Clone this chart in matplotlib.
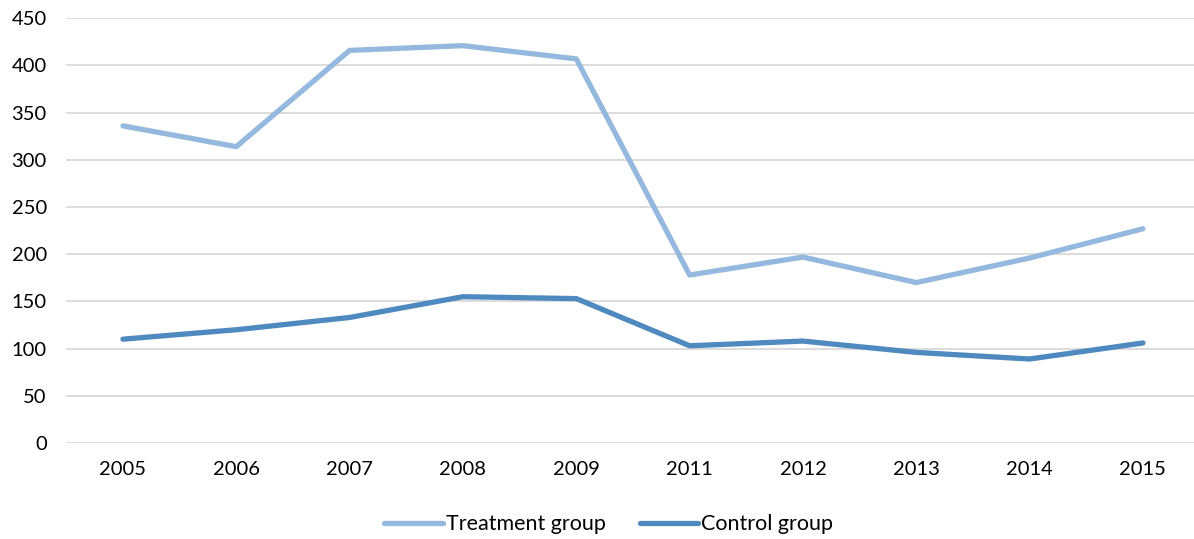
import matplotlib
matplotlib.use("Agg")
import matplotlib.pyplot as plt

years = ["2005", "2006", "2007", "2008", "2009", "2011", "2012", "2013", "2014", "2015"]
treatment = [336, 314, 416, 421, 407, 178, 197, 170, 196, 227]
control = [110, 120, 133, 155, 153, 103, 108, 96, 89, 106]
y_ticks = [0, 50, 100, 150, 200, 250, 300, 350, 400, 450]

plt.rcParams['font.family'] = ['Lato', 'DejaVu Sans']

fig = plt.figure(figsize=(11.94, 5.39), dpi=100)
ax = fig.add_axes([66.3/1194, 1-443/539, 1133.3/1194, (443-18.3)/539])

x = list(range(len(years)))
ax.plot(x, treatment, color="#95B8DF", lw=3.8, solid_capstyle="round", solid_joinstyle="round", label="Treatment group")
ax.plot(x, control, color="#4E89BF", lw=3.8, solid_capstyle="round", solid_joinstyle="round", label="Control group")

ax.set_xlim(-0.5, 9.5)
ax.set_ylim(0, 450)
ax.set_yticks(y_ticks)
ax.set_xticks(x)
ax.set_xticklabels(years)
ax.yaxis.grid(True, color="#D9D9D9", lw=1.3)
ax.set_axisbelow(True)
for s in ax.spines.values():
    s.set_visible(False)
ax.tick_params(axis="both", length=0, labelsize=14.5, colors="#000000")
ax.tick_params(axis="y", pad=14)
ax.tick_params(axis="x", pad=13)

leg = fig.legend(loc="lower center", bbox_to_anchor=(0.51, -0.027), ncol=2, frameon=False,
                 fontsize=15.5, handlelength=2.7, handletextpad=0.15, columnspacing=1.6)

fig.savefig("out.png", dpi=100)
